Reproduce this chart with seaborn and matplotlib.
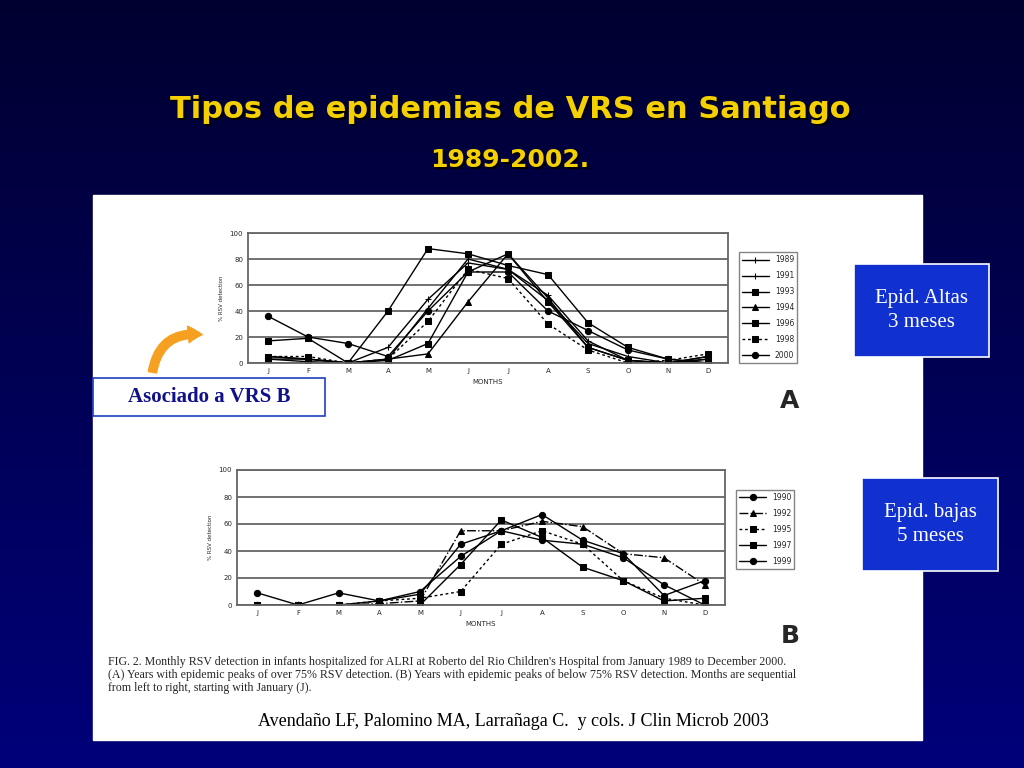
import matplotlib
matplotlib.use("Agg")
import matplotlib.pyplot as plt
import seaborn as sns
import numpy as np
from matplotlib.patches import Rectangle, FancyArrowPatch
from matplotlib.colors import LinearSegmentedColormap

sns.set_theme(style="white")
plt.rcParams['font.family'] = ['DejaVu Sans']

months = ["J", "F", "M", "A", "M", "J", "J", "A", "S", "O", "N", "D"]
years_a = ["1989", "1991", "1993", "1994", "1996", "1998", "2000"]
vals_a = [
    [5, 3, 0, 12, 49, 77, 72, 52, 17, 2, 0, 5],
    [3, 3, 0, 3, 42, 80, 72, 48, 15, 5, 0, 3],
    [17, 19, 0, 40, 88, 84, 75, 68, 31, 12, 3, 0],
    [5, 3, 0, 3, 7, 47, 84, 50, 12, 2, 0, 5],
    [3, 1, 0, 2, 15, 70, 84, 47, 12, 2, 0, 3],
    [5, 5, 0, 3, 32, 72, 65, 30, 10, 0, 2, 7],
    [36, 20, 15, 5, 40, 70, 70, 40, 25, 10, 3, 0],
]
years_b = ["1990", "1992", "1995", "1997", "1999"]
vals_b = [
    [9, 0, 9, 3, 8, 45, 55, 67, 48, 38, 7, 18],
    [0, 0, 0, 1, 3, 55, 55, 62, 58, 38, 35, 15],
    [0, 0, 0, 3, 5, 10, 45, 55, 45, 18, 5, 0],
    [0, 0, 0, 0, 0, 30, 63, 50, 28, 18, 3, 5],
    [0, 0, 0, 3, 10, 36, 55, 48, 45, 35, 15, 0],
]
styles_a = [("+", "-"), ("|", "-"), ("s", "-"), ("^", "-"), ("s", "-"), ("s", (0, (2, 2))), ("o", "-")]
styles_b = [("o", "-"), ("^", "-."), ("s", (0, (2, 2))), ("s", "-"), ("o", "-")]

fig = plt.figure(figsize=(10.24, 7.68), dpi=100)
bg = fig.add_axes([0, 0, 1, 1])
grad = np.linspace(0, 1, 256).reshape(-1, 1)
cmap = LinearSegmentedColormap.from_list("bg", ["#000030", "#00007a"])
bg.imshow(grad, aspect="auto", cmap=cmap, extent=[0, 1, 0, 1])
bg.set_xlim(0, 1); bg.set_ylim(0, 1); bg.axis("off")

W, H = 1024, 768
def fx(x): return x / W
def fy(y): return 1 - y / H

bg.add_patch(Rectangle((fx(93), fy(740)), fx(922) - fx(93), fy(195) - fy(740), color="white"))

for txt, yy, fs in (("Tipos de epidemias de VRS en Santiago", 110, 22), ("1989-2002.", 160, 18)):
    bg.text(fx(510) + 2 / W, fy(yy) - 2 / H, txt, color="#000000", fontsize=fs,
            fontweight="bold", ha="center", va="center")
    bg.text(fx(510), fy(yy), txt, color="#f5d000", fontsize=fs,
            fontweight="bold", ha="center", va="center")

def panel(rect, years, vals, styles):
    ax = fig.add_axes(rect)
    x = np.arange(12)
    for yr, v, (m, ls) in zip(years, vals, styles):
        sns.lineplot(x=x, y=v, ax=ax, color="black", marker=m, linestyle=ls, lw=1.0,
                     markersize=4.5, label=yr, markeredgecolor="black")
    ax.set_xlim(-0.5, 11.5); ax.set_ylim(0, 100)
    ax.set_yticks(range(0, 101, 20))
    ax.set_xticks(x); ax.set_xticklabels(months)
    ax.tick_params(labelsize=5, length=0)
    ax.grid(axis="y", color="#666666", lw=1.3)
    ax.set_facecolor("white")
    for s in ax.spines.values():
        s.set_color("#666666"); s.set_linewidth(1.3)
    ax.set_ylabel("% RSV detection", fontsize=4)
    ax.set_xlabel("MONTHS", fontsize=5)
    leg = ax.legend(loc="upper left", bbox_to_anchor=(1.015, 0.88), fontsize=5.5, frameon=True,
                    edgecolor="#666666", fancybox=False, handlelength=3.5, labelspacing=0.9)
    return ax

panel([fx(248), fy(363), fx(728) - fx(248), fy(233) - fy(363)], years_a, vals_a, styles_a)
panel([fx(237), fy(605), fx(725) - fx(237), fy(470) - fy(605)], years_b, vals_b, styles_b)

bg.text(fx(790), fy(401), "A", fontsize=18, fontweight="bold", ha="center", va="center")
bg.text(fx(790), fy(636), "B", fontsize=18, fontweight="bold", ha="center", va="center")

cap = ("FIG. 2. Monthly RSV detection in infants hospitalized for ALRI at Roberto del Rio Children's Hospital from January 1989 to December 2000.\n"
       "(A) Years with epidemic peaks of over 75% RSV detection. (B) Years with epidemic peaks of below 75% RSV detection. Months are sequential\n"
       "from left to right, starting with January (J).")
bg.text(fx(108), fy(675), cap, fontsize=8.6, family="Liberation Serif", ha="left", va="center", linespacing=1.1)
bg.text(fx(513), fy(721), "Avendaño LF, Palomino MA, Larrañaga C.  y cols. J Clin Microb 2003",
        fontsize=13, family="Liberation Serif", ha="center", va="center", color="black")

def box(x0, y0, x1, y1, txt, fc, tc, ec, fs, weight="normal"):
    bg.add_patch(Rectangle((fx(x0), fy(y1)), fx(x1) - fx(x0), fy(y0) - fy(y1),
                           facecolor=fc, edgecolor=ec, lw=1.2))
    bg.text((fx(x0) + fx(x1)) / 2, (fy(y0) + fy(y1)) / 2, txt, color=tc, fontsize=fs,
            family="Liberation Serif", ha="center", va="center", fontweight=weight, linespacing=1.3)

box(854, 264, 989, 357, "Epid. Altas\n3 meses", "#1030d0", "white", "white", 15)
box(862, 478, 998, 571, "Epid. bajas\n5 meses", "#1030d0", "white", "white", 15)
box(93, 378, 325, 416, "Asociado a VRS B", "white", "#10108a", "#2040c0", 15, "bold")

arr = FancyArrowPatch((fx(152), fy(375)), (fx(205), fy(335)), connectionstyle="arc3,rad=-0.5",
                      arrowstyle="simple,head_width=12,head_length=10,tail_width=6",
                      color="#f5a020", transform=bg.transAxes)
bg.add_patch(arr)

fig.savefig("out.png", dpi=100)
